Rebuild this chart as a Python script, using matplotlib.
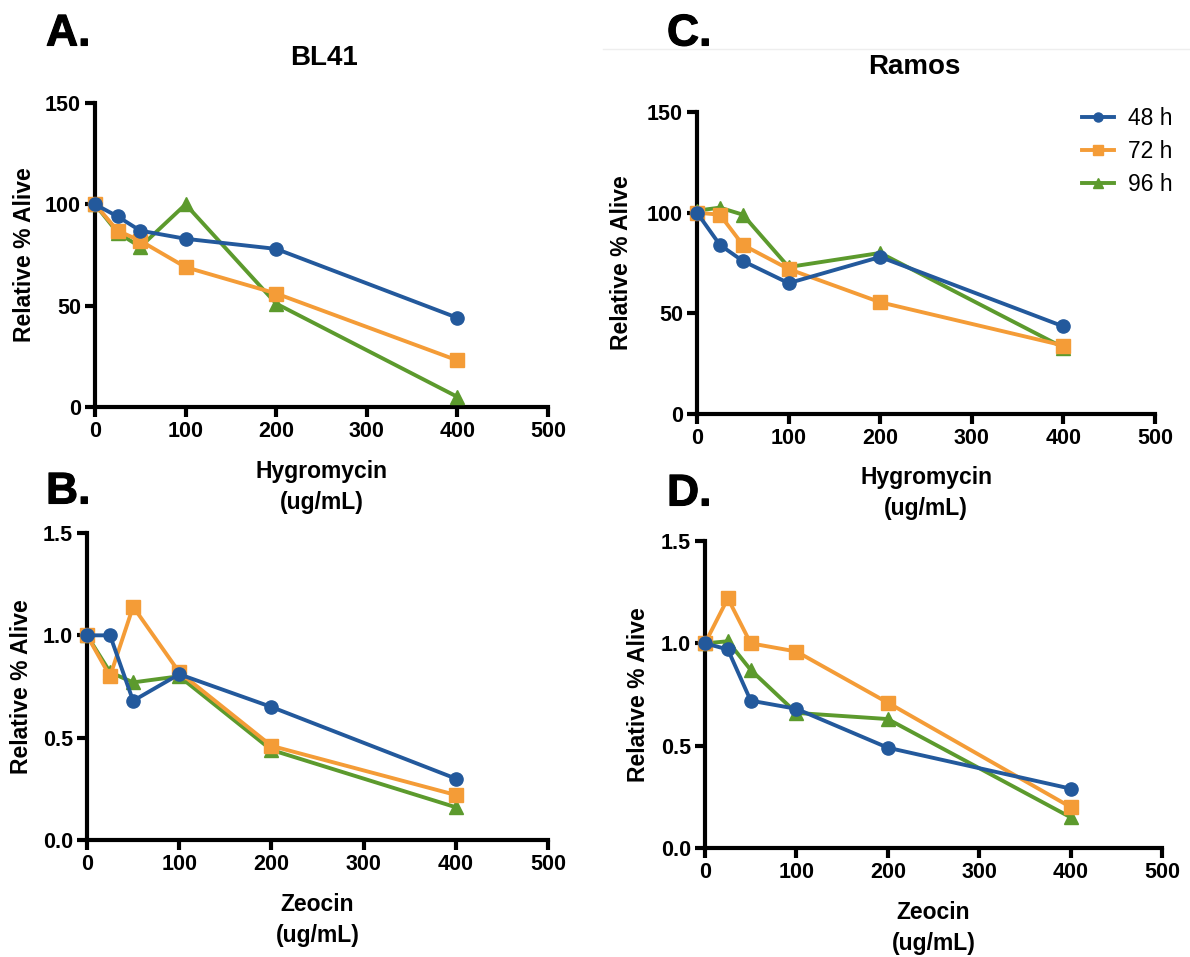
import matplotlib
matplotlib.use("Agg")
import matplotlib.pyplot as plt
from matplotlib.lines import Line2D
import matplotlib.patheffects as pe

plt.rcParams['font.family'] = ['Liberation Sans', 'DejaVu Sans']

# ---------------- data ----------------
dose = [0, 25, 50, 100, 200, 400]
series_names = ["48 h", "72 h", "96 h"]

bl41_hyg_48 = [100, 94, 87, 83, 78, 44]
bl41_hyg_72 = [100, 87, 82, 69, 56, 23]
bl41_hyg_96 = [100, 86, 79, 100, 51, 5]

ramos_hyg_48 = [100, 84, 76, 65, 78, 43.5]
ramos_hyg_72 = [100, 99, 84, 72, 55.5, 34]
ramos_hyg_96 = [101, 102.5, 99, 73, 80, 33]

bl41_zeo_48 = [1.0, 1.0, 0.68, 0.81, 0.65, 0.30]
bl41_zeo_72 = [1.0, 0.80, 1.14, 0.82, 0.46, 0.22]
bl41_zeo_96 = [1.0, 0.82, 0.77, 0.80, 0.44, 0.16]

ramos_zeo_48 = [1.0, 0.97, 0.72, 0.68, 0.49, 0.29]
ramos_zeo_72 = [1.0, 1.22, 1.0, 0.96, 0.71, 0.20]
ramos_zeo_96 = [1.0, 1.01, 0.87, 0.66, 0.63, 0.15]

x_ticks = [0, 100, 200, 300, 400, 500]
hyg_yticks = [0, 50, 100, 150]
zeo_yticks = [0.0, 0.5, 1.0, 1.5]
zeo_yticklabels = ["0.0", "0.5", "1.0", "1.5"]

colors = ["#23599c", "#f49c37", "#5c9a2d"]
markers = ["o", "s", "^"]
msizes = [9.5, 9.5, 10]

W, H = 1190, 957
fig = plt.figure(figsize=(W / 100, H / 100), dpi=100)
fig.patch.set_facecolor("white")


def px_axes(left, right, top, bottom):
    return fig.add_axes([left / W, 1 - bottom / H, (right - left) / W, (bottom - top) / H])


def style(ax, yticks, yticklabels=None, ymax=150):
    ax.set_xlim(0, 500)
    ax.set_ylim(0, ymax)
    ax.set_xticks(x_ticks)
    ax.set_yticks(yticks)
    if yticklabels is not None:
        ax.set_yticklabels(yticklabels)
    for s in ["top", "right"]:
        ax.spines[s].set_visible(False)
    for s in ["left", "bottom"]:
        ax.spines[s].set_linewidth(3)
        ax.spines[s].set_capstyle("projecting")
    ax.tick_params(direction="out", length=7, width=3, labelsize=15.5, pad=3)
    for lab in ax.get_xticklabels() + ax.get_yticklabels():
        lab.set_fontweight("bold")
    ax.set_facecolor("none")


def draw(ax, ys):
    for i, (y, c, m, ms) in enumerate(zip(ys, colors, markers, msizes)):
        ax.plot(dose, y, color=c, marker=m, markersize=ms, linewidth=2.8,
                label=series_names[i], clip_on=False, zorder=5 - i)


axA = px_axes(95, 548, 103, 407)
draw(axA, [bl41_hyg_48, bl41_hyg_72, bl41_hyg_96])
style(axA, hyg_yticks)

axC = px_axes(697, 1155, 112, 414)
draw(axC, [ramos_hyg_48, ramos_hyg_72, ramos_hyg_96])
style(axC, hyg_yticks)

axB = px_axes(87, 548, 533, 840)
draw(axB, [bl41_zeo_48, bl41_zeo_72, bl41_zeo_96])
style(axB, zeo_yticks, zeo_yticklabels, ymax=1.5)

axD = px_axes(705, 1162, 541, 848)
draw(axD, [ramos_zeo_48, ramos_zeo_72, ramos_zeo_96])
style(axD, zeo_yticks, zeo_yticklabels, ymax=1.5)

lab_kw = dict(fontsize=16.5, fontweight="bold", linespacing=1.45)
for ax, xl in [(axA, "Hygromycin\n(ug/mL)"), (axC, "Hygromycin\n(ug/mL)"),
               (axB, "Zeocin\n(ug/mL)"), (axD, "Zeocin\n(ug/mL)")]:
    ax.set_ylabel("Relative % Alive", **lab_kw)
    ax.set_xlabel(xl, **lab_kw)

axA.yaxis.set_label_coords(-0.131, 0.5)
axC.yaxis.set_label_coords(-0.14, 0.5)
axB.yaxis.set_label_coords(-0.118, 0.5)
axD.yaxis.set_label_coords(-0.121, 0.5)
for ax in (axA, axB, axC, axD):
    ax.xaxis.set_label_coords(0.5, -0.173)

# titles
fig.text(324 / W, 1 - 58 / H, "BL41", fontsize=20, fontweight="bold", ha="center", va="center")
fig.text(914 / W, 1 - 67 / H, "Ramos", fontsize=20, fontweight="bold", ha="center", va="center")

# panel letters
for (x, y, t) in [(46, 34, "A."), (46, 492, "B."), (667, 34, "C."), (667, 494, "D.")]:
    fig.text(x / W, 1 - y / H, t, fontsize=32, fontweight="bold", ha="left", va="center",
             path_effects=[pe.withStroke(linewidth=0.8, foreground="black")])

# faint separator line near panel C
fig.add_artist(Line2D([603 / W, 1.0], [1 - 49 / H, 1 - 49 / H], color="#eeeeee", lw=1))

# legend
handles = [Line2D([0], [0], color=c, marker=m, markersize=6.5, linewidth=2.8)
           for c, m in zip(colors, markers)]
leg = axC.legend(handles, series_names, loc="upper right", bbox_to_anchor=(1.084, 1.086),
                 frameon=False, fontsize=16.5, handlelength=1.4, handletextpad=0.6,
                 labelspacing=0.45)

fig.savefig("out.png", dpi=100, facecolor="white")
